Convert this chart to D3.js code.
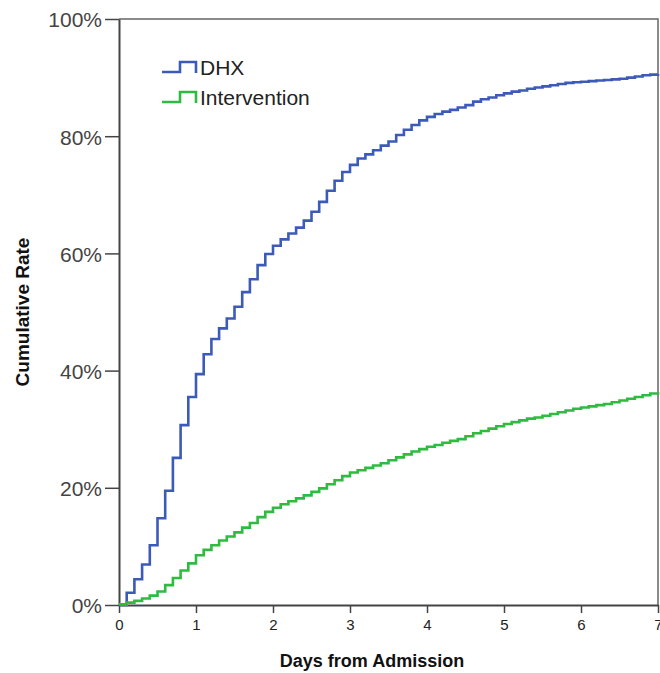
<!DOCTYPE html>
<html>
<head>
<meta charset="utf-8">
<script src="https://cdn.jsdelivr.net/npm/d3@7"></script>
<style>
  body { margin: 0; background: #fff; }
  svg { display: block; font-family: "Liberation Sans", Arial, sans-serif; }
</style>
</head>
<body>
<div id="chart"></div>
<script>
// step start times (days) - last one is the end of the follow-up
var days = [0, 0.1, 0.2, 0.3, 0.4, 0.5, 0.6, 0.7, 0.8, 0.9,
            1.0, 1.1, 1.2, 1.3, 1.4, 1.5, 1.6, 1.7, 1.8, 1.9,
            2.0, 2.1, 2.2, 2.3, 2.4, 2.5, 2.6, 2.7, 2.8, 2.9,
            3.0, 3.1, 3.2, 3.3, 3.4, 3.5, 3.6, 3.7, 3.8, 3.9,
            4.0, 4.1, 4.2, 4.3, 4.4, 4.5, 4.6, 4.7, 4.8, 4.9,
            5.0, 5.1, 5.2, 5.3, 5.4, 5.5, 5.6, 5.7, 5.8, 5.9,
            6.0, 6.1, 6.2, 6.3, 6.4, 6.5, 6.6, 6.7, 6.8, 6.9, 7.0];

// cumulative rate (%)
var dhx = [0, 2.1, 4.4, 6.9, 10.2, 14.8, 19.5, 25.1, 30.7, 35.5,
           39.4, 42.8, 45.4, 47.2, 48.9, 50.9, 53.4, 55.6, 58.0, 59.9,
           61.3, 62.4, 63.4, 64.4, 65.6, 67.1, 68.8, 70.7, 72.4, 73.9,
           75.1, 76.2, 76.9, 77.6, 78.4, 79.1, 80.2, 81.1, 81.9, 82.7,
           83.3, 83.8, 84.2, 84.5, 84.9, 85.3, 85.9, 86.3, 86.6, 87.0,
           87.3, 87.6, 87.8, 88.1, 88.3, 88.5, 88.7, 88.9, 89.1, 89.2,
           89.3, 89.4, 89.5, 89.6, 89.7, 89.8, 90.0, 90.2, 90.4, 90.5, 90.6];

var intervention = [0.1, 0.4, 0.7, 1.1, 1.6, 2.3, 3.4, 4.6, 5.9, 7.1,
                    8.5, 9.4, 10.2, 11.0, 11.7, 12.4, 13.2, 14.0, 15.0, 15.9,
                    16.6, 17.2, 17.7, 18.2, 18.7, 19.3, 19.9, 20.6, 21.3, 22.0,
                    22.6, 23.0, 23.4, 23.8, 24.2, 24.7, 25.2, 25.7, 26.2, 26.6,
                    27.0, 27.3, 27.7, 28.0, 28.3, 28.8, 29.3, 29.7, 30.1, 30.5,
                    30.9, 31.2, 31.5, 31.8, 32.0, 32.3, 32.6, 32.9, 33.2, 33.5,
                    33.7, 33.9, 34.1, 34.3, 34.6, 34.9, 35.2, 35.5, 35.8, 36.1, 36.3];

var seriesNames = ["DHX", "Intervention"];
var seriesColors = ["#3c5bb8", "#2fba40"];
var xTicks = [0, 1, 2, 3, 4, 5, 6, 7];
var yTicks = [0, 20, 40, 60, 80, 100];

drawChart();

function drawChart() {
    var width = 660;
    var height = 673;
    var plotLeft = 119, plotRight = 658, plotTop = 19, plotBottom = 605;

    var svg = d3.select("#chart")
                .append("svg")
                .attr("width", width)
                .attr("height", height);

    var x = d3.scaleLinear().domain([0, 7]).range([plotLeft, plotRight]);
    var y = d3.scaleLinear().domain([0, 100]).range([plotBottom, plotTop]);

    // frame (top and right)
    svg.append("path")
        .attr("d", "M" + plotLeft + "," + plotTop + "H" + plotRight + "V" + plotBottom)
        .attr("fill", "none")
        .attr("stroke", "#666")
        .attr("stroke-width", 1.5);

    var xaxis = d3.axisBottom(x)
                  .tickValues(xTicks)
                  .tickFormat(d3.format("d"))
                  .tickSize(8)
                  .tickSizeOuter(0)
                  .tickPadding(6);

    var yaxis = d3.axisLeft(y)
                  .tickValues(yTicks)
                  .tickFormat((d) => d + "%")
                  .tickSize(14)
                  .tickSizeOuter(0)
                  .tickPadding(3);

    var gx = svg.append("g").attr("transform", "translate(0," + plotBottom + ")").call(xaxis);
    var gy = svg.append("g").attr("transform", "translate(" + plotLeft + ",0)").call(yaxis);

    gx.selectAll("text").attr("font-size", 15).attr("fill", "#222").attr("font-family", "Liberation Sans, Arial, sans-serif");
    gy.selectAll("text").attr("font-size", 21).attr("fill", "#444").attr("dy", "0.38em").attr("font-family", "Liberation Sans, Arial, sans-serif");
    [gx, gy].forEach(function(g) {
        g.selectAll("line").attr("stroke", "#444").attr("stroke-width", 1.5);
        g.select(".domain").attr("stroke", "#444").attr("stroke-width", 2);
    });

    // curves
    var line = d3.line()
                 .x((d) => x(d[0]))
                 .y((d) => y(d[1]))
                 .curve(d3.curveStepAfter);

    [dhx, intervention].forEach(function(vals, k) {
        var pts = days.map((d, i) => [d, vals[i]]);
        svg.append("path")
            .datum(pts)
            .attr("d", line)
            .attr("fill", "none")
            .attr("stroke", seriesColors[k])
            .attr("stroke-width", 2.6)
            .attr("stroke-linejoin", "miter");
    });

    // legend
    var legend = svg.append("g").attr("transform", "translate(162,0)");
    seriesNames.forEach(function(name, i) {
        var yy = 72 + i * 30;
        legend.append("path")
            .attr("d", "M0," + yy + "H18V" + (yy - 10) + "H34V" + (yy + 1))
            .attr("fill", "none")
            .attr("stroke", seriesColors[i])
            .attr("stroke-width", 2.6);
        legend.append("text")
            .attr("x", 38)
            .attr("y", yy + 3)
            .attr("font-size", 21)
            .attr("fill", "#222")
            .text(name);
    });

    // axis titles
    svg.append("text")
        .attr("x", 372)
        .attr("y", 667)
        .attr("text-anchor", "middle")
        .attr("font-size", 18)
        .attr("font-weight", "bold")
        .attr("fill", "#111")
        .text("Days from Admission");

    svg.append("text")
        .attr("transform", "translate(29,312) rotate(-90)")
        .attr("text-anchor", "middle")
        .attr("font-size", 19)
        .attr("font-weight", "bold")
        .attr("fill", "#111")
        .text("Cumulative Rate");
}
</script>
</body>
</html>
